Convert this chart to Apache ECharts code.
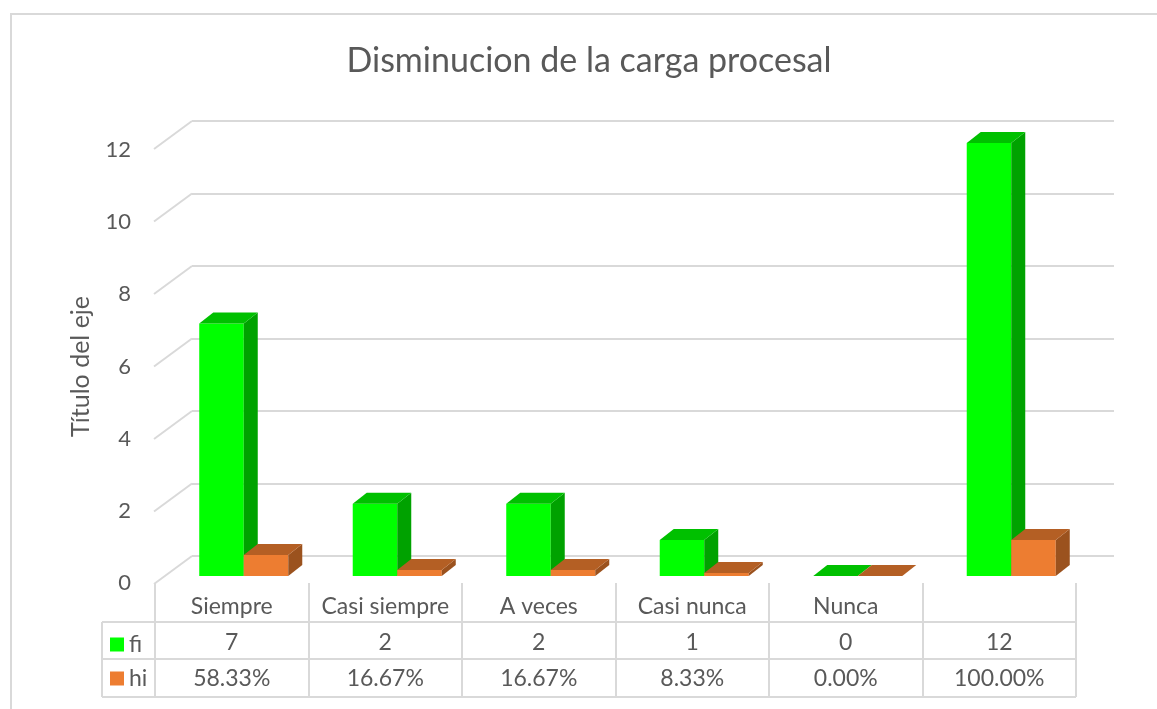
<!DOCTYPE html>
<html>
<head>
<meta charset="utf-8">
<script src="https://cdn.jsdelivr.net/npm/echarts@6/dist/echarts.min.js"></script>
<style>
  html, body { margin: 0; padding: 0; background: #fff; }
  #chart { width: 1157px; height: 709px; }
</style>
</head>
<body>
<div id="chart"></div>
<script>
// datos
const categories = ['Siempre', 'Casi siempre', 'A veces', 'Casi nunca', 'Nunca', '']
const fiValues = [7, 2, 2, 1, 0, 12]
const hiValues = [0.5833, 0.1667, 0.1667, 0.0833, 0, 1]
const hiLabels = ['58.33%', '16.67%', '16.67%', '8.33%', '0.00%', '100.00%']
const yTicks = [0, 2, 4, 6, 8, 10, 12]

const textColor = '#595959'
const lineColor = '#d9d9d9'
const fontSize = 23

// caras: frente, arriba, lado
const fiFaces = ['#00ff00', '#00c000', '#00a200']
const hiFaces = ['#ed7d31', '#b45f24', '#9b521e']

function bar3d (faces, shift) {
  return function (params, api) {
    const i = api.value(0)
    const v = api.value(1)
    const base = api.coord([i, 0])
    const top = api.coord([i, v])
    const w = api.size([1, 0])[0] * 0.29
    const dx = 14
    const dy = -11
    const x0 = base[0] + shift * w
    const x1 = x0 + w
    const y0 = base[1]
    const y1 = top[1]
    return {
      type: 'group',
      children: [
        { type: 'rect', shape: { x: x0, y: y1, width: w, height: y0 - y1 }, style: { fill: faces[0] } },
        { type: 'polygon', shape: { points: [[x1, y1], [x1 + dx, y1 + dy], [x1 + dx, y0 + dy], [x1, y0]] }, style: { fill: faces[2] } },
        { type: 'polygon', shape: { points: [[x0, y1], [x0 + dx, y1 + dy], [x1 + dx, y1 + dy], [x1, y1]] }, style: { fill: faces[1] } }
      ]
    }
  }
}

// lineas diagonales de la pared
function wallDiag (params, api) {
  const p = api.coord([0, api.value(1)])
  const x = params.coordSys.x
  return {
    type: 'line',
    shape: { x1: x, y1: p[1], x2: x - 38, y2: p[1] + 28 },
    style: { stroke: lineColor, lineWidth: 2 }
  }
}

const chart = echarts.init(document.getElementById('chart'))

const valueAxis = {
  type: 'value',
  min: 0,
  max: 12,
  interval: 2
}

const rowAxis = (data, margin) => ({
  gridIndex: 0,
  type: 'category',
  position: 'bottom',
  data: data,
  axisLine: { show: false },
  axisTick: { show: false },
  axisLabel: { interval: 0, margin: margin, color: textColor, fontSize: fontSize, fontFamily: 'Lato' }
})

chart.setOption({
  textStyle: { fontFamily: 'Lato' },
  animation: false,
  title: {
    text: 'Disminucion de la carga procesal',
    left: 584,
    top: 39,
    textAlign: 'center',
    textStyle: { color: textColor, fontSize: 34, fontWeight: 'normal', fontFamily: 'Lato' }
  },
  legend: {
    data: ['fi', 'hi'],
    orient: 'vertical',
    left: 110,
    top: 633,
    padding: 0,
    itemWidth: 14,
    itemHeight: 14,
    itemGap: 11,
    icon: 'rect',
    textStyle: { color: textColor, fontSize: fontSize, fontFamily: 'Lato', padding: [0, 0, 8, 0] }
  },
  grid: [
    // plano frontal
    { left: 155, right: 81, top: 150, bottom: 126 },
    // plano de barras
    { left: 167, right: 69, top: 143, bottom: 133 },
    // pared del fondo
    { left: 192, right: 43, top: 121, bottom: 153 }
  ],
  xAxis: [
    {
      gridIndex: 0,
      type: 'category',
      position: 'bottom',
      data: categories,
      axisLine: { show: false },
      axisTick: { show: true, length: 114, lineStyle: { color: lineColor, width: 2 } },
      axisLabel: { interval: 0, margin: 12, color: textColor, fontSize: fontSize, fontFamily: 'Lato' }
    },
    { gridIndex: 1, type: 'category', data: categories, show: false },
    { gridIndex: 2, type: 'category', data: categories, show: false },
    rowAxis(fiValues.map(String), 48),
    rowAxis(hiLabels, 84)
  ],
  yAxis: [
    Object.assign({}, valueAxis, {
      gridIndex: 0,
      name: 'Título del eje',
      nameLocation: 'middle',
      nameRotate: 90,
      nameGap: 62,
      nameTextStyle: { color: textColor, fontSize: 25, fontFamily: 'Lato' },
      axisLine: { show: false },
      axisTick: { show: false },
      splitLine: { show: false },
      axisLabel: { margin: 24, color: textColor, fontSize: 22, fontFamily: 'Lato' }
    }),
    Object.assign({}, valueAxis, { gridIndex: 1, show: false }),
    Object.assign({}, valueAxis, {
      gridIndex: 2,
      axisLine: { show: false },
      axisTick: { show: false },
      axisLabel: { show: false },
      splitLine: { show: true, lineStyle: { color: lineColor, width: 2 } }
    })
  ],
  series: [
    {
      type: 'custom',
      name: 'pared',
      xAxisIndex: 2,
      yAxisIndex: 2,
      silent: true,
      renderItem: wallDiag,
      data: yTicks.map(v => [0, v])
    },
    {
      type: 'custom',
      name: 'fi',
      xAxisIndex: 1,
      yAxisIndex: 1,
      itemStyle: { color: fiFaces[0] },
      renderItem: bar3d(fiFaces, -1),
      data: fiValues.map((v, i) => [i, v])
    },
    {
      type: 'custom',
      name: 'hi',
      xAxisIndex: 1,
      yAxisIndex: 1,
      itemStyle: { color: hiFaces[0] },
      renderItem: bar3d(hiFaces, 0),
      data: hiValues.map((v, i) => [i, v])
    }
  ],
  graphic: [
    { type: 'rect', silent: true, shape: { x: 11, y: 14, width: 1300, height: 900 }, style: { fill: null, stroke: lineColor, lineWidth: 2 } },
    { type: 'line', silent: true, shape: { x1: 102, y1: 622, x2: 1076, y2: 622 }, style: { stroke: lineColor, lineWidth: 2 } },
    { type: 'line', silent: true, shape: { x1: 102, y1: 659, x2: 1076, y2: 659 }, style: { stroke: lineColor, lineWidth: 2 } },
    { type: 'line', silent: true, shape: { x1: 102, y1: 697, x2: 1076, y2: 697 }, style: { stroke: lineColor, lineWidth: 2 } },
    { type: 'line', silent: true, shape: { x1: 102, y1: 622, x2: 102, y2: 697 }, style: { stroke: lineColor, lineWidth: 2 } }
  ]
})
</script>
</body>
</html>
